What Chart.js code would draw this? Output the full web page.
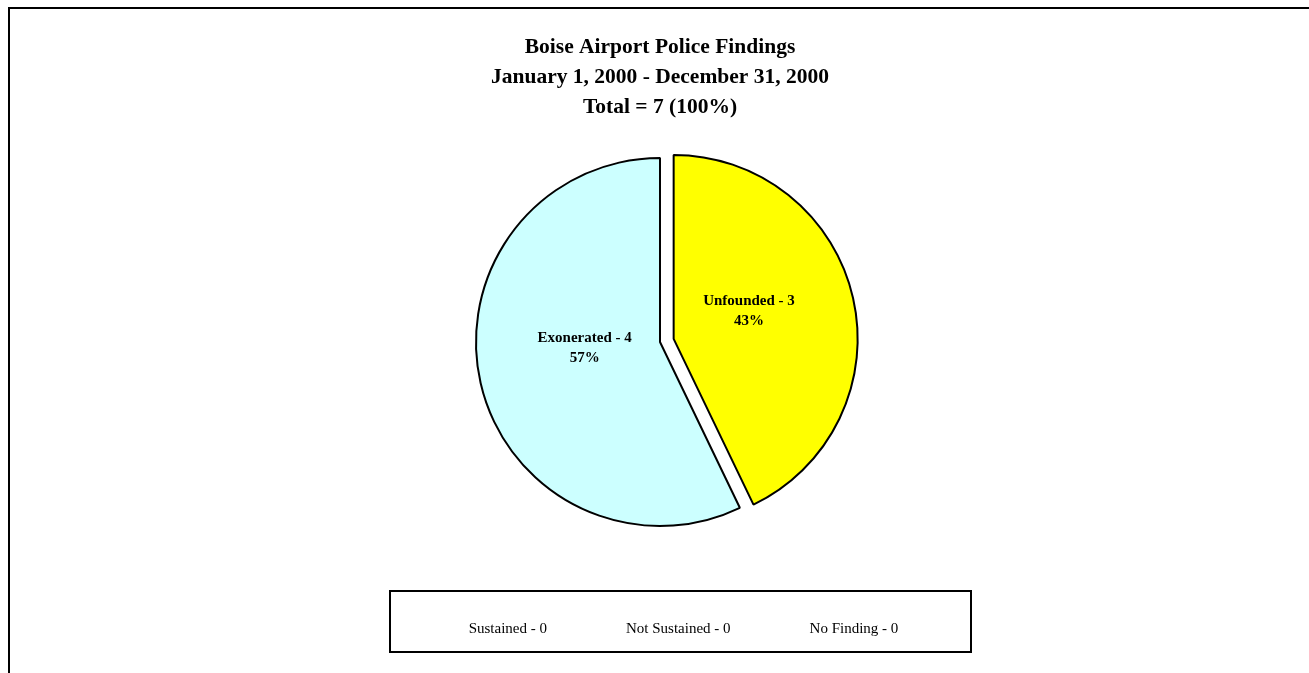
<!DOCTYPE html>
<html>
<head>
<meta charset="utf-8">
<script src="https://cdn.jsdelivr.net/npm/chart.js@4/dist/chart.umd.min.js"></script>
<style>
    html, body { margin: 0; padding: 0; background: #fff; }
    canvas { display: block; }
</style>
</head>
<body>
<canvas id="findings" width="1309" height="673"></canvas>
<script>
const titleLines = ['Boise Airport Police Findings', 'January 1, 2000 - December 31, 2000', 'Total = 7 (100%)'];
const categories = ['Sustained', 'Not Sustained', 'Unfounded', 'Exonerated', 'No Finding'];
const counts = [0, 0, 3, 4, 0];
const sliceColors = ['#9999FF', '#993366', '#FFFF00', '#CCFFFF', '#FFFFCC'];
const explode = [0, 0, 14, 0, 0];

// frame round the whole chart, open on the right and bottom like the original
const framePlugin = {
    id: 'frame',
    beforeDraw(chart) {
        const ctx = chart.ctx;
        ctx.save();
        ctx.strokeStyle = '#000';
        ctx.lineWidth = 2;
        ctx.beginPath();
        ctx.moveTo(9, chart.height);
        ctx.lineTo(9, 8);
        ctx.lineTo(chart.width, 8);
        ctx.stroke();
        ctx.restore();
    }
};

// pull exploded slices out along their bisector
const explodePlugin = {
    id: 'explode',
    afterDatasetsUpdate(chart) {
        const meta = chart.getDatasetMeta(0);
        meta.data.forEach((arc, i) => {
            const d = explode[i] || 0;
            if (!d) return;
            const mid = (arc.startAngle + arc.endAngle) / 2;
            arc.x += Math.cos(mid) * d;
            arc.y += Math.sin(mid) * d;
        });
    }
};

const sliceLabelPlugin = {
    id: 'sliceLabels',
    afterDatasetsDraw(chart) {
        const ctx = chart.ctx;
        const meta = chart.getDatasetMeta(0);
        const total = counts.reduce((a, b) => a + b, 0);
        ctx.save();
        ctx.font = 'bold 15px "Liberation Serif", "Times New Roman", serif';
        ctx.fillStyle = '#000';
        ctx.textAlign = 'center';
        ctx.textBaseline = 'middle';
        meta.data.forEach((arc, i) => {
            if (!counts[i]) return;
            const mid = (arc.startAngle + arc.endAngle) / 2;
            const r = arc.outerRadius * 0.42;
            const x = arc.x + Math.cos(mid) * r;
            const y = arc.y + Math.sin(mid) * r - 11;
            const pct = Math.round(counts[i] / total * 100);
            ctx.fillText(categories[i] + ' - ' + counts[i], x, y - 10);
            ctx.fillText(pct + '%', x, y + 10);
        });
        ctx.restore();
    }
};

// legend box: only the empty categories are listed, with no keys
const legendBoxPlugin = {
    id: 'legendBox',
    afterDraw(chart) {
        const ctx = chart.ctx;
        const box = {left: 390, top: 591, width: 581, height: 61};
        ctx.save();
        ctx.strokeStyle = '#000';
        ctx.lineWidth = 2;
        ctx.strokeRect(box.left, box.top, box.width, box.height);
        ctx.font = '15px "Liberation Serif", "Times New Roman", serif';
        ctx.fillStyle = '#000';
        ctx.textBaseline = 'middle';
        ctx.textAlign = 'left';
        const items = categories
            .map((c, i) => ({text: c + ' - ' + counts[i], value: counts[i]}))
            .filter(it => it.value === 0);
        const gap = 79;
        const widths = items.map(it => ctx.measureText(it.text).width);
        const total = widths.reduce((a, b) => a + b, 0) + gap * (items.length - 1);
        let x = box.left + box.width / 2 - total / 2 + 3;
        items.forEach((it, i) => {
            ctx.fillText(it.text, x, box.top + 38);
            x += widths[i] + gap;
        });
        ctx.restore();
    }
};

new Chart(document.getElementById('findings'), {
    type: 'pie',
    data: {
        labels: categories,
        datasets: [{
            data: counts,
            backgroundColor: sliceColors,
            borderColor: '#000',
            borderWidth: ctx => (ctx.raw ? 2 : 0),
        }]
    },
    options: {
        responsive: false,
        animation: false,
        radius: 184,
        layout: {
            padding: {left: 11, right: 0, top: 0, bottom: 121}
        },
        plugins: {
            legend: {display: false},
            tooltip: {enabled: false},
            title: {
                display: true,
                text: titleLines,
                color: '#000',
                font: {family: '"Liberation Serif", "Times New Roman", serif', size: 21.5, weight: 'bold', lineHeight: 30 / 21.5},
                padding: {top: 32, bottom: 10},
            }
        }
    },
    plugins: [framePlugin, explodePlugin, sliceLabelPlugin, legendBoxPlugin]
});
</script>
</body>
</html>
